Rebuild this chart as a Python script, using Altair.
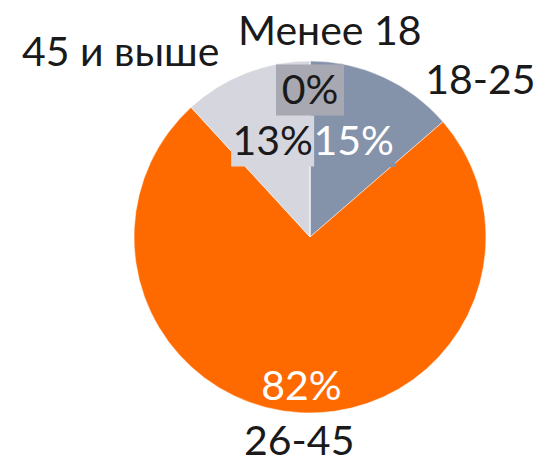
import math
import altair as alt
import pandas as pd

# ---- data ----
categories = ["18-25", "26-45", "45 и выше", "Менее 18"]
values = [15, 82, 13, 0]
pct_labels = ["15%", "82%", "13%", "0%"]

# ---- style / layout ----
slice_colors = ["#8492aa", "#ff6a00", "#d6d6df", "#a8a8b2"]
pct_text_colors = ["#ffffff", "#ffffff", "#1a1a1a", "#1a1a1a"]
box_opacity = [1, 0, 1, 1]
FONT = "Lato"
FS = 41
CX, CY, R = 302, 229, 176
pct_radius = [105, 149, 103, 147]
name_radius = [234, 201, 267, 210]
name_nudge = [22.2, -0.2, -23.9, 5.4]

total = sum(values)
rows = []
cum = 0
for i, (c, v) in enumerate(zip(categories, values)):
    start = cum / total * 360
    cum += v
    end = cum / total * 360
    mid = (start + end) / 2
    a1 = math.radians(mid)
    a2 = math.radians(mid + name_nudge[i])
    px = CX + pct_radius[i] * math.sin(a1)
    py = CY - pct_radius[i] * math.cos(a1)
    nx = CX + name_radius[i] * math.sin(a2)
    ny = CY - name_radius[i] * math.cos(a2)
    bw = 38 + 15 * len(pct_labels[i])
    rows.append(dict(cat=c, value=v, order=i, pct=pct_labels[i],
                     px=px, py=py + 2, nx=nx, ny=ny + 5,
                     bx=px - bw / 2, bx2=px + bw / 2, by=py - 25.5, by2=py + 25.5,
                     tcol=pct_text_colors[i], bcol=slice_colors[i], bop=box_opacity[i]))
df = pd.DataFrame(rows)

base = alt.Chart(df)

pie = base.mark_arc(outerRadius=R, stroke="#ffffff", strokeWidth=0.5).encode(
    theta=alt.Theta("value:Q", stack=True),
    color=alt.Color("cat:N", scale=alt.Scale(domain=categories, range=slice_colors), legend=None),
    order=alt.Order("order:Q"),
    x=alt.value(CX),
    y=alt.value(CY),
)

boxes = base.mark_rect().encode(
    x=alt.X("bx:Q", scale=None, axis=None),
    x2="bx2:Q",
    y=alt.Y("by:Q", scale=None, axis=None),
    y2="by2:Q",
    fill=alt.Fill("bcol:N", scale=None),
    opacity=alt.Opacity("bop:Q", scale=None),
    order=alt.Order("order:Q"),
)

pct_text = base.mark_text(font=FONT, fontSize=FS, baseline="middle", align="center").encode(
    x=alt.X("px:Q", scale=None, axis=None),
    y=alt.Y("py:Q", scale=None, axis=None),
    text="pct:N",
    color=alt.Color("tcol:N", scale=None),
)

name_text = base.mark_text(font=FONT, fontSize=FS, baseline="middle", align="center", color="#1a1a1a").encode(
    x=alt.X("nx:Q", scale=None, axis=None),
    y=alt.Y("ny:Q", scale=None, axis=None),
    text="cat:N",
)

chart = alt.layer(pie, boxes, pct_text, name_text).properties(
    width=534, height=457, autosize=alt.AutoSizeParams(type="none"), padding=0
).configure_view(stroke=None)

chart.save("out.html", embed_options={"renderer": "svg", "actions": False})
